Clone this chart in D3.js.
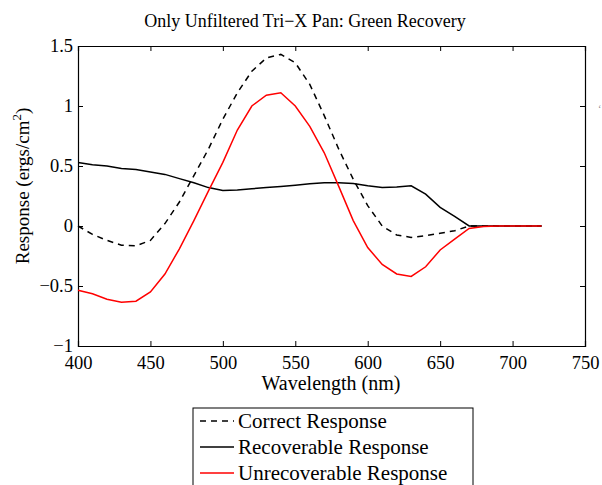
<!DOCTYPE html>
<html><head><meta charset="utf-8">
<script src="https://cdn.jsdelivr.net/npm/d3@7"></script>
<style>body{margin:0;background:#fff}svg{display:block}</style>
</head><body>
<svg id="c" width="602" height="485" font-family='"Liberation Serif",serif'></svg>
<script>
const wavelengths = [400,410,420,430,440,450,460,470,480,490,500,510,520,530,540,550,560,570,580,590,600,610,620,630,640,650,660,670,680,690,700,710,720];
const correct = [0,-0.07,-0.12,-0.16,-0.165,-0.12,0.02,0.2,0.42,0.64,0.89,1.11,1.29,1.40,1.43,1.36,1.18,0.92,0.64,0.39,0.17,0.0,-0.075,-0.095,-0.08,-0.06,-0.04,0,0,0,0,0,0];
const recoverable = [0.53,0.51,0.50,0.48,0.47,0.45,0.43,0.395,0.36,0.32,0.296,0.30,0.31,0.32,0.33,0.34,0.352,0.36,0.36,0.355,0.335,0.32,0.325,0.335,0.265,0.155,0.08,0,0,0,0,0,0];
const unrecoverable = [-0.535,-0.565,-0.61,-0.635,-0.627,-0.55,-0.40,-0.19,0.045,0.29,0.53,0.80,1.00,1.09,1.11,1.00,0.83,0.61,0.33,0.045,-0.18,-0.32,-0.40,-0.42,-0.34,-0.20,-0.11,-0.02,-0.005,0,0,0,0];
const xTicks = [400,450,500,550,600,650,700,750];
const yTicks = [-1,-0.5,0,0.5,1,1.5];
const seriesNames = ["Correct Response","Recoverable Response","Unrecoverable Response"];

const svg = d3.select("#c");
const L=78,R=585,T=46,B=346;
const x = d3.scaleLinear().domain([400,750]).range([L,R]);
const y = d3.scaleLinear().domain([-1,1.5]).range([B,T]);
const fmt = d => d3.format("")(d).replace("-","\u2212");
const SERIF = '"Liberation Serif",serif';

const g = svg.append("g");
const ax = d3.axisBottom(x).tickValues(xTicks).tickSize(-5).tickPadding(10).tickFormat(fmt);
const axT = d3.axisTop(x).tickValues(xTicks).tickSize(-5).tickFormat("");
const ay = d3.axisLeft(y).tickValues(yTicks).tickSize(-5).tickPadding(5).tickFormat(fmt);
const ayR = d3.axisRight(y).tickValues(yTicks).tickSize(-5).tickFormat("");
g.append("g").attr("transform",`translate(0,${B})`).call(ax);
g.append("g").attr("transform",`translate(0,${T})`).call(axT);
g.append("g").attr("transform",`translate(${L},0)`).call(ay);
g.append("g").attr("transform",`translate(${R},0)`).call(ayR);
g.selectAll("g").attr("font-family",SERIF);
g.selectAll(".domain").attr("stroke","#000").attr("stroke-width",1.2);
g.selectAll(".tick line").attr("stroke","#000");
g.selectAll(".tick text").attr("font-size",18.5).attr("fill","#000").attr("font-family",SERIF);

const line = vals => d3.line().x((d,i)=>x(wavelengths[i])).y(d=>y(d))(vals);
svg.append("path").attr("d",line(recoverable)).attr("fill","none").attr("stroke","#000").attr("stroke-width",1.5);
svg.append("path").attr("d",line(correct)).attr("fill","none").attr("stroke","#000").attr("stroke-width",1.5).attr("stroke-dasharray","6,5");
svg.append("path").attr("d",line(unrecoverable)).attr("fill","none").attr("stroke","#ff0000").attr("stroke-width",1.5);

svg.append("text").attr("x",305).attr("y",27).attr("text-anchor","middle").attr("font-size",18).attr("font-family",SERIF).text("Only Unfiltered Tri\u2212X Pan: Green Recovery");
svg.append("text").attr("x",331).attr("y",390).attr("text-anchor","middle").attr("font-size",20).attr("font-family",SERIF).text("Wavelength (nm)");
const yl = svg.append("text").attr("transform","translate(29,186) rotate(-90)").attr("text-anchor","middle").attr("font-size",19).attr("font-family",SERIF);
yl.append("tspan").text("Response (ergs/cm");
yl.append("tspan").attr("dy",-8).attr("font-size",13).text("2");
yl.append("tspan").attr("dy",8).text(")");

svg.append("text").attr("x",598).attr("y",112).attr("font-size",10).attr("fill","#888").attr("font-family",SERIF).text("\u2018");

const lg = svg.append("g");
lg.append("rect").attr("x",193).attr("y",408).attr("width",280).attr("height",100).attr("fill","#fff").attr("stroke","#000").attr("stroke-width",1);
const styles = [{c:"#000",d:"6,5"},{c:"#000",d:null},{c:"#ff0000",d:null}];
seriesNames.forEach((n,i)=>{
  const yy = 421 + i*26;
  lg.append("line").attr("x1",200).attr("x2",234).attr("y1",yy).attr("y2",yy).attr("stroke",styles[i].c).attr("stroke-width",1.5).attr("stroke-dasharray",styles[i].d);
  lg.append("text").attr("x",238).attr("y",yy+7).attr("font-size",21).attr("font-family",SERIF).text(n);
});
</script>
</body></html>
